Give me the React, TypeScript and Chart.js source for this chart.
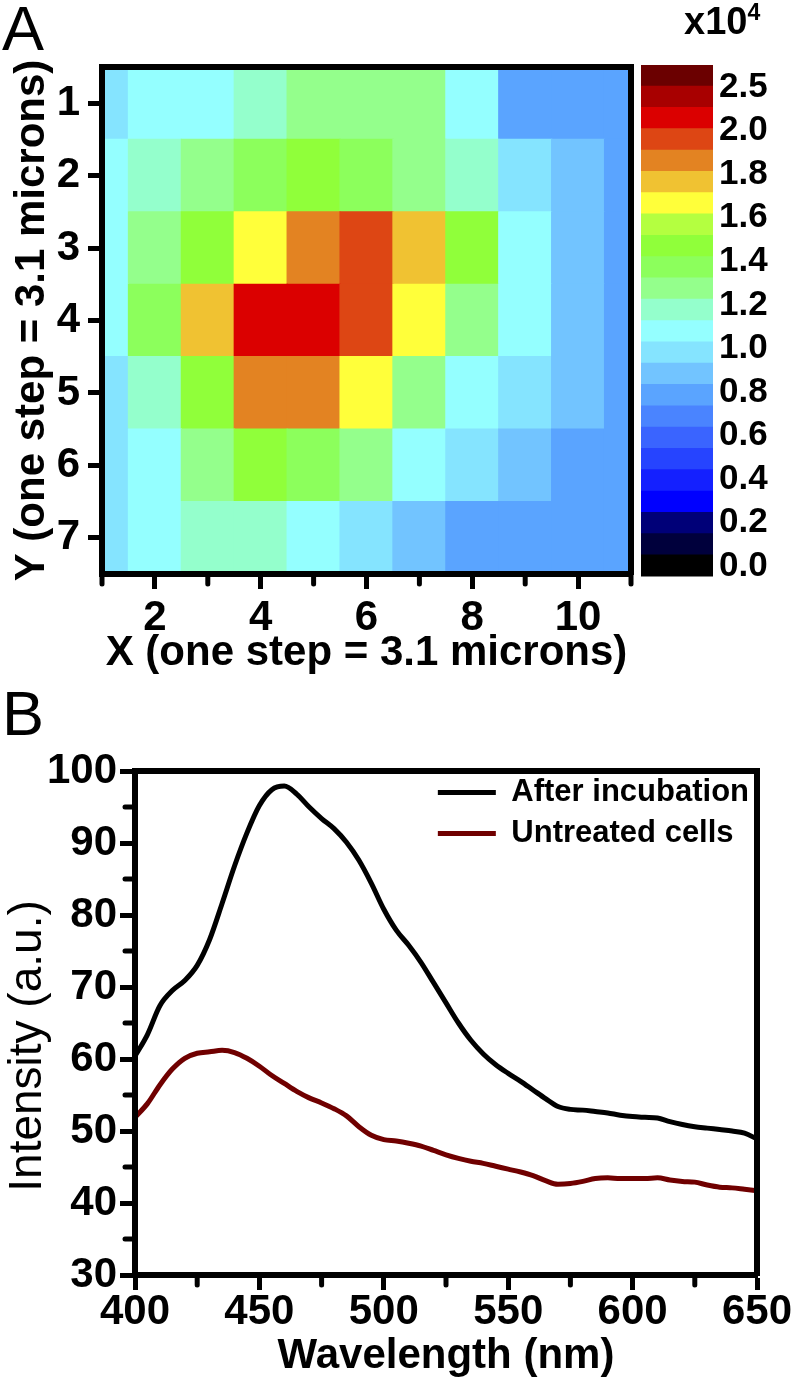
import React, { useEffect, useRef } from 'react';
import { Chart, registerables } from 'chart.js';

Chart.register(...registerables);

const FONT = '"Liberation Sans", Arial, Helvetica, sans-serif';

// ---------- Panel A : heat map (values x10^4) ----------
const HEAT_COLS = [1, 2, 3, 4, 5, 6, 7, 8, 9, 10, 11];
const HEAT_ROWS = [1, 2, 3, 4, 5, 6, 7];
const HEAT_VALUES = [
  [0.95, 1.05, 1.05, 1.15, 1.25, 1.25, 1.25, 1.05, 0.75, 0.75, 0.75],
  [1.05, 1.15, 1.25, 1.35, 1.45, 1.35, 1.25, 1.15, 0.95, 0.85, 0.75],
  [1.05, 1.25, 1.45, 1.65, 1.85, 1.95, 1.75, 1.45, 1.05, 0.85, 0.75],
  [1.05, 1.35, 1.75, 2.1, 2.1, 1.95, 1.65, 1.25, 1.05, 0.85, 0.75],
  [0.95, 1.15, 1.45, 1.85, 1.85, 1.65, 1.25, 1.05, 0.95, 0.85, 0.75],
  [0.95, 1.05, 1.25, 1.45, 1.35, 1.25, 1.05, 0.95, 0.85, 0.75, 0.75],
  [0.95, 1.05, 1.15, 1.15, 1.05, 0.95, 0.85, 0.75, 0.75, 0.75, 0.75],
];
const HEAT_X_TICKS = [2, 4, 6, 8, 10];
const HEAT_X_MINOR = [1, 3, 5, 7, 9, 11];

// colour scale (bottom -> top)
const CB_LEVELS = [0, 0.1, 0.2, 0.3, 0.4, 0.5, 0.6, 0.7, 0.8, 0.9, 1.0, 1.1, 1.2, 1.3, 1.4, 1.5, 1.6, 1.7, 1.8, 1.9, 2.0, 2.25, 2.5];
const CB_COLORS = [
  '#000000', '#00003c', '#000078', '#0000ff', '#1420ff', '#2644ff', '#3a64ff', '#4a84ff',
  '#5aa4ff', '#72c4ff', '#85e4ff', '#94ffff', '#94ffcc', '#94ff8c', '#8cff5c', '#90ff3a',
  '#b4ff40', '#ffff3a', '#f0c232', '#e38322', '#dd4614', '#db0000', '#a80000', '#6b0000',
];
const CB_LABELS = ['0.0', '0.2', '0.4', '0.6', '0.8', '1.0', '1.2', '1.4', '1.6', '1.8', '2.0', '2.5'];
const CB_LABEL_POS = [0.47, 2.52, 4.56, 6.61, 8.65, 10.7, 12.74, 14.79, 16.83, 18.88, 20.92, 22.97];

// ---------- Panel B : spectra ----------
const WAVELENGTHS = [
  400, 405, 410, 415, 420, 425, 430, 435, 440, 445, 450, 455, 460, 465, 470, 475, 480, 485, 490, 495,
  500, 505, 510, 515, 520, 525, 530, 535, 540, 545, 550, 555, 560, 565, 570, 575, 580, 585, 590, 595,
  600, 605, 610, 615, 620, 625, 630, 635, 640, 645, 650,
];
const AFTER_INCUBATION = [
  60.4, 63.4, 67.4, 69.5, 70.9, 73.0, 76.6, 81.6, 86.8, 91.4, 95.2, 97.4, 97.9, 96.8, 95.0, 93.4, 92.0, 90.1, 87.6, 84.4,
  80.8, 77.9, 75.8, 73.4, 70.6, 67.8, 65.0, 62.6, 60.7, 59.2, 58.0, 56.9, 55.7, 54.5, 53.4, 53.0, 52.9, 52.7, 52.5, 52.2,
  52.0, 51.9, 51.8, 51.3, 50.9, 50.6, 50.4, 50.2, 50.0, 49.7, 48.9,
];
const UNTREATED = [
  51.9, 53.8, 56.4, 58.6, 60.1, 60.8, 61.0, 61.2, 60.9, 60.1, 59.0, 57.7, 56.6, 55.5, 54.6, 53.9, 53.1, 52.1, 50.6, 49.4,
  48.8, 48.6, 48.3, 47.9, 47.3, 46.7, 46.2, 45.8, 45.5, 45.1, 44.7, 44.3, 43.8, 43.1, 42.6, 42.7, 43.0, 43.4, 43.5, 43.4,
  43.4, 43.4, 43.5, 43.2, 43.0, 42.9, 42.5, 42.2, 42.1, 41.9, 41.7,
];
const SERIES_NAMES = ['After incubation', 'Untreated cells'];
const SERIES_COLORS = ['#000000', '#700000'];
const B_X_TICKS = [400, 450, 500, 550, 600, 650];
const B_X_MINOR = [425, 475, 525, 575, 625];
const B_Y_TICKS = [30, 40, 50, 60, 70, 80, 90, 100];
const B_Y_MINOR = [35, 45, 55, 65, 75, 85, 95];

function colorFor(v: number): string {
  let idx = 0;
  for (const lv of CB_LEVELS) if (v >= lv) idx++;
  return CB_COLORS[idx];
}

const bold = (size: number, weight: any = 'bold') => ({ family: FONT, size, weight, lineHeight: 1 });

function minorTicks(list: { axis: string; values: number[]; length: number }[]) {
  return {
    id: 'minorTicks',
    afterDraw(chart: any) {
      const ctx = chart.ctx;
      ctx.save();
      ctx.strokeStyle = '#000';
      ctx.lineWidth = 5;
      ctx.lineCap = 'round';
      list.forEach(({ axis, values, length }) => {
        const s = chart.scales[axis];
        values.forEach((v) => {
          const p = s.getPixelForValue(v);
          ctx.beginPath();
          if (s.isHorizontal()) {
            ctx.moveTo(p, s.top);
            ctx.lineTo(p, s.top + length);
          } else {
            ctx.moveTo(s.right, p);
            ctx.lineTo(s.right - length, p);
          }
          ctx.stroke();
        });
      });
      ctx.restore();
    },
  };
}

const frameAxis = (position: 'top' | 'right') => ({
  type: 'linear' as const,
  position,
  display: true,
  ticks: { display: false },
  grid: { display: false, drawTicks: false },
  border: { display: true, width: 6, color: '#000', z: 1 },
  afterFit: (s: any) => {
    if (position === 'top') s.height = 0;
    else s.width = 0;
  },
});

const tickGrid = (len: number) => ({
  display: true,
  drawOnChartArea: false,
  drawTicks: true,
  tickLength: len,
  tickWidth: 5,
  tickColor: '#000',
  offset: false,
});

function heatmapConfig(): any {
  const cells: any[] = [];
  HEAT_ROWS.forEach((row, ri) =>
    HEAT_COLS.forEach((col, ci) => cells.push({ x: col, y: [row - 0.5, row + 0.5], v: HEAT_VALUES[ri][ci] }))
  );
  return {
    type: 'bar',
    data: {
      datasets: [
        {
          data: cells,
          backgroundColor: (c: any) => colorFor(c.raw ? c.raw.v : 0),
          borderWidth: 0,
          barPercentage: 1,
          categoryPercentage: 1,
          inflateAmount: 0.6,
          clip: 0,
        },
      ],
    },
    options: {
      responsive: false,
      animation: false,
      layout: { padding: { top: 67, right: 9, left: 0, bottom: 0 } },
      plugins: { legend: { display: false }, tooltip: { enabled: false } },
      scales: {
        x: {
          type: 'linear',
          position: 'bottom',
          min: 1,
          max: 11,
          offset: false,
          afterBuildTicks: (s: any) => {
            s.ticks = HEAT_X_TICKS.map((v) => ({ value: v }));
          },
          ticks: { autoSkip: false, maxRotation: 0, padding: 8, font: bold(42), color: '#000' },
          grid: tickGrid(15),
          border: { display: true, width: 6, color: '#000', z: 1 },
          title: { display: true, text: 'X (one step = 3.1 microns)', font: bold(42), color: '#000', padding: { top: 0, bottom: 26 } },
          afterFit: (s: any) => {
            s.height = 126;
          },
        },
        y: {
          type: 'linear',
          position: 'left',
          reverse: true,
          min: 0.5,
          max: 7.5,
          afterBuildTicks: (s: any) => {
            s.ticks = HEAT_ROWS.map((v) => ({ value: v }));
          },
          ticks: { autoSkip: false, padding: 8, font: bold(42), color: '#000' },
          grid: tickGrid(14),
          border: { display: true, width: 6, color: '#000', z: 1 },
          title: { display: true, text: 'Y (one step = 3.1 microns)', font: bold(42), color: '#000', padding: { top: 11, bottom: 0 } },
          afterFit: (s: any) => {
            s.width = 102;
          },
        },
        x2: frameAxis('top'),
        y2: frameAxis('right'),
      },
    },
    plugins: [minorTicks([{ axis: 'x', values: HEAT_X_MINOR, length: 10 }])],
  };
}

function colorbarConfig(): any {
  return {
    type: 'bar',
    data: {
      labels: [''],
      datasets: CB_COLORS.map((c) => ({
        data: [1],
        backgroundColor: c,
        borderWidth: 0,
        barPercentage: 1,
        categoryPercentage: 1,
        inflateAmount: 0.6,
        stack: 'cb',
      })),
    },
    options: {
      responsive: false,
      animation: false,
      layout: { padding: { top: 65, left: 11, right: 0, bottom: 23 } },
      plugins: { legend: { display: false }, tooltip: { enabled: false } },
      scales: {
        x: { stacked: true, display: false },
        y: {
          stacked: true,
          position: 'right',
          min: 0,
          max: CB_COLORS.length,
          afterBuildTicks: (s: any) => {
            s.ticks = CB_LABEL_POS.map((v) => ({ value: v }));
          },
          ticks: {
            autoSkip: false,
            padding: 6,
            font: bold(35),
            color: '#000',
            callback: (_v: any, i: number) => CB_LABELS[i],
          },
          grid: { display: false, drawTicks: false },
          border: { display: false },
          afterFit: (s: any) => {
            s.width = 84;
          },
        },
      },
    },
  };
}

function spectraConfig(): any {
  const series = [AFTER_INCUBATION, UNTREATED];
  return {
    type: 'line',
    data: {
      datasets: series.map((arr, k) => ({
        label: SERIES_NAMES[k],
        data: WAVELENGTHS.map((w, i) => ({ x: w, y: arr[i] })),
        borderColor: SERIES_COLORS[k],
        backgroundColor: SERIES_COLORS[k],
        borderWidth: 5,
        pointRadius: 0,
        cubicInterpolationMode: 'monotone',
        fill: false,
      })),
    },
    options: {
      responsive: false,
      animation: false,
      layout: { padding: { top: 91, right: 40, left: 0, bottom: 0 } },
      plugins: {
        tooltip: { enabled: false },
        legend: {
          display: true,
          position: 'chartArea',
          align: 'start',
          labels: {
            boxWidth: 58,
            boxHeight: 5,
            padding: 10,
            color: '#000',
            font: { family: FONT, size: 31, weight: 'bold' },
            generateLabels: (chart: any) =>
              (Chart.defaults.plugins.legend.labels.generateLabels as any)(chart).map((it: any) => ({
                ...it,
                fillStyle: it.strokeStyle,
                lineWidth: 0,
              })),
          },
        },
      },
      scales: {
        x: {
          type: 'linear',
          position: 'bottom',
          min: 400,
          max: 650,
          afterBuildTicks: (s: any) => {
            s.ticks = B_X_TICKS.map((v) => ({ value: v }));
          },
          ticks: { autoSkip: false, maxRotation: 0, padding: 1, font: bold(42), color: '#000' },
          grid: tickGrid(15),
          border: { display: true, width: 6, color: '#000', z: 1 },
          title: { display: true, text: 'Wavelength (nm)', font: bold(42), color: '#000', padding: { top: 0, bottom: 16 } },
          afterFit: (s: any) => {
            s.height = 118;
          },
        },
        y: {
          type: 'linear',
          position: 'left',
          min: 30,
          max: 100,
          afterBuildTicks: (s: any) => {
            s.ticks = B_Y_TICKS.map((v) => ({ value: v }));
          },
          ticks: { autoSkip: false, padding: 3, font: bold(42), color: '#000' },
          grid: tickGrid(15),
          border: { display: true, width: 6, color: '#000', z: 1 },
          title: { display: true, text: 'Intensity (a.u.)\u2003', font: bold(46, 'normal'), color: '#000', padding: { top: 5, bottom: 0 } },
          afterFit: (s: any) => {
            s.width = 135;
          },
        },
        x2: frameAxis('top'),
        y2: frameAxis('right'),
      },
    },
    plugins: [
      minorTicks([
        { axis: 'x', values: B_X_MINOR, length: 10 },
        { axis: 'y', values: B_Y_MINOR, length: 10 },
      ]),
      {
        id: 'legendTopRight',
        afterLayout(chart: any) {
          const lg = chart.legend;
          if (!lg) return;
          const w = lg.width;
          lg.right = chart.chartArea.right + 2;
          lg.left = lg.right - w;
          lg.top = chart.chartArea.top - 4;
        },
      },
    ],
  };
}

export default function App() {
  const aRef = useRef<HTMLCanvasElement>(null);
  const cbRef = useRef<HTMLCanvasElement>(null);
  const bRef = useRef<HTMLCanvasElement>(null);

  useEffect(() => {
    document.body.style.margin = '0';
    Chart.defaults.color = '#000';
    Chart.defaults.font.family = FONT;
    const a = new Chart(aRef.current as HTMLCanvasElement, heatmapConfig());
    const cb = new Chart(cbRef.current as HTMLCanvasElement, colorbarConfig());
    const b = new Chart(bRef.current as HTMLCanvasElement, spectraConfig());
    return () => {
      a.destroy();
      cb.destroy();
      b.destroy();
    };
  }, []);

  const abs = (l: number, t: number, w: number, h: number): React.CSSProperties => ({
    position: 'absolute',
    left: l,
    top: t,
    width: w,
    height: h,
  });

  return (
    <div style={{ position: 'relative', width: 797, height: 1393, background: '#fff', overflow: 'hidden', fontFamily: FONT, color: '#000' }}>
      <canvas ref={aRef} width={640} height={700} style={abs(0, 0, 640, 700)} />
      <canvas ref={cbRef} width={167} height={600} style={abs(630, 0, 167, 600)} />
      <canvas ref={bRef} width={797} height={713} style={abs(0, 680, 797, 713)} />
      <div style={{ position: 'absolute', left: 2, top: -3, fontSize: 63, lineHeight: '63px' }}>A</div>
      <div style={{ position: 'absolute', left: 2, top: 682, fontSize: 63, lineHeight: '63px' }}>B</div>
      <div style={{ position: 'absolute', left: 684, top: 2, fontSize: 38, fontWeight: 'bold', lineHeight: '38px', whiteSpace: 'nowrap' }}>
        x10
        <span style={{ fontSize: 23, position: 'relative', top: -14 }}>4</span>
      </div>
    </div>
  );
}
